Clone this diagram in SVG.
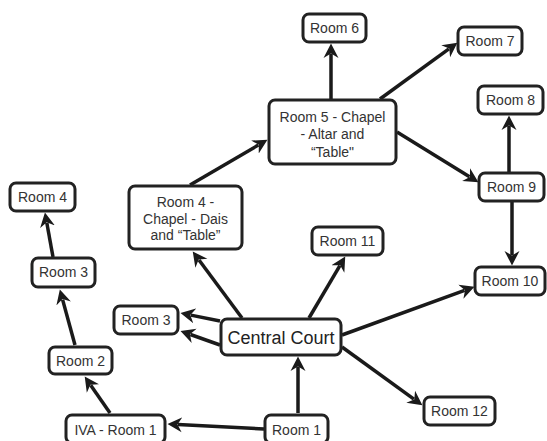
<svg xmlns="http://www.w3.org/2000/svg" width="547" height="441" viewBox="0 0 547 441">
<defs>
<marker id="ah" markerUnits="userSpaceOnUse" markerWidth="16" markerHeight="16" refX="4" refY="7.5" orient="auto" viewBox="0 0 16 15">
<path d="M0,0 L14.5,7.5 L0,15 L4.5,7.5 Z" fill="#1a1a1a"/>
</marker>
<style>
.box{fill:#fff;stroke:#222;stroke-width:3}
.t{font-family:"Liberation Sans",Arial,sans-serif;font-size:14px;fill:#333;text-anchor:middle}
.big{font-size:18px;fill:#222}
.e line{stroke:#1a1a1a;stroke-width:3.5;marker-end:url(#ah)}
</style>
</defs>
<rect width="547" height="441" fill="#fff"/>
<g id="edges" class="e">
<line x1="110" y1="413" x2="90.7" y2="385.2"/>
<line x1="75" y1="345" x2="62.6" y2="299.6"/>
<line x1="53" y1="257" x2="46.8" y2="222.8"/>
<line x1="264" y1="429" x2="178" y2="424.5"/>
<line x1="298" y1="413" x2="298" y2="367"/>
<line x1="220" y1="321" x2="190.8" y2="315.1"/>
<line x1="220" y1="345" x2="190.4" y2="334.5"/>
<line x1="242" y1="318" x2="199" y2="260"/>
<line x1="190" y1="185" x2="258.4" y2="145"/>
<line x1="331" y1="99" x2="331" y2="54"/>
<line x1="380" y1="99" x2="448.9" y2="48.9"/>
<line x1="397" y1="132" x2="469.5" y2="176.7"/>
<line x1="509" y1="172" x2="509" y2="126"/>
<line x1="512" y1="202" x2="512" y2="255"/>
<line x1="309" y1="318" x2="339.9" y2="265.6"/>
<line x1="342" y1="335" x2="464.6" y2="290.4"/>
<line x1="342" y1="347" x2="413.9" y2="399.1"/>
</g>
<g id="room6"><rect class="box" x="303" y="14" width="63" height="28" rx="6"/><text class="t" x="334.5" y="33">Room 6</text></g>
<g id="room7"><rect class="box" x="458" y="27" width="64" height="28" rx="6"/><text class="t" x="490" y="46">Room 7</text></g>
<g id="room8"><rect class="box" x="478" y="86" width="65" height="28" rx="6"/><text class="t" x="510.5" y="105">Room 8</text></g>
<g id="room5"><rect class="box" x="269" y="100" width="127" height="64" rx="6"/><text class="t" x="332.5" y="122">Room 5 - Chapel</text><text class="t" x="332.5" y="139">- Altar and</text><text class="t" x="332.5" y="157">“Table"</text></g>
<g id="room9"><rect class="box" x="479" y="173" width="65" height="28" rx="6"/><text class="t" x="511.5" y="192">Room 9</text></g>
<g id="room4"><rect class="box" x="10" y="183" width="65" height="28" rx="6"/><text class="t" x="42.5" y="202">Room 4</text></g>
<g id="room4chapel"><rect class="box" x="129" y="186" width="113" height="63" rx="6"/><text class="t" x="185.5" y="207">Room 4 -</text><text class="t" x="185.5" y="224">Chapel - Dais</text><text class="t" x="185.5" y="240">and “Table”</text></g>
<g id="room3a"><rect class="box" x="32" y="258" width="63" height="29" rx="6"/><text class="t" x="63.5" y="277">Room 3</text></g>
<g id="room11"><rect class="box" x="312" y="227" width="71" height="28" rx="6"/><text class="t" x="347.5" y="246">Room 11</text></g>
<g id="room10"><rect class="box" x="475" y="267" width="70" height="28" rx="6"/><text class="t" x="510" y="286">Room 10</text></g>
<g id="room3b"><rect class="box" x="114" y="306" width="64" height="28" rx="6"/><text class="t" x="146" y="325">Room 3</text></g>
<g id="central"><rect class="box" x="221" y="319" width="120" height="36" rx="6"/><text class="t big" x="281" y="343.5">Central Court</text></g>
<g id="room2"><rect class="box" x="49" y="347" width="63" height="27" rx="6"/><text class="t" x="80.5" y="365.5">Room 2</text></g>
<g id="room12"><rect class="box" x="424" y="397" width="71" height="28" rx="6"/><text class="t" x="459.5" y="416">Room 12</text></g>
<g id="iva"><rect class="box" x="66" y="415" width="99" height="28" rx="6"/><text class="t" x="115.5" y="435">IVA - Room 1</text></g>
<g id="room1"><rect class="box" x="265" y="415" width="63" height="28" rx="6"/><text class="t" x="296.5" y="435">Room 1</text></g>
</svg>
